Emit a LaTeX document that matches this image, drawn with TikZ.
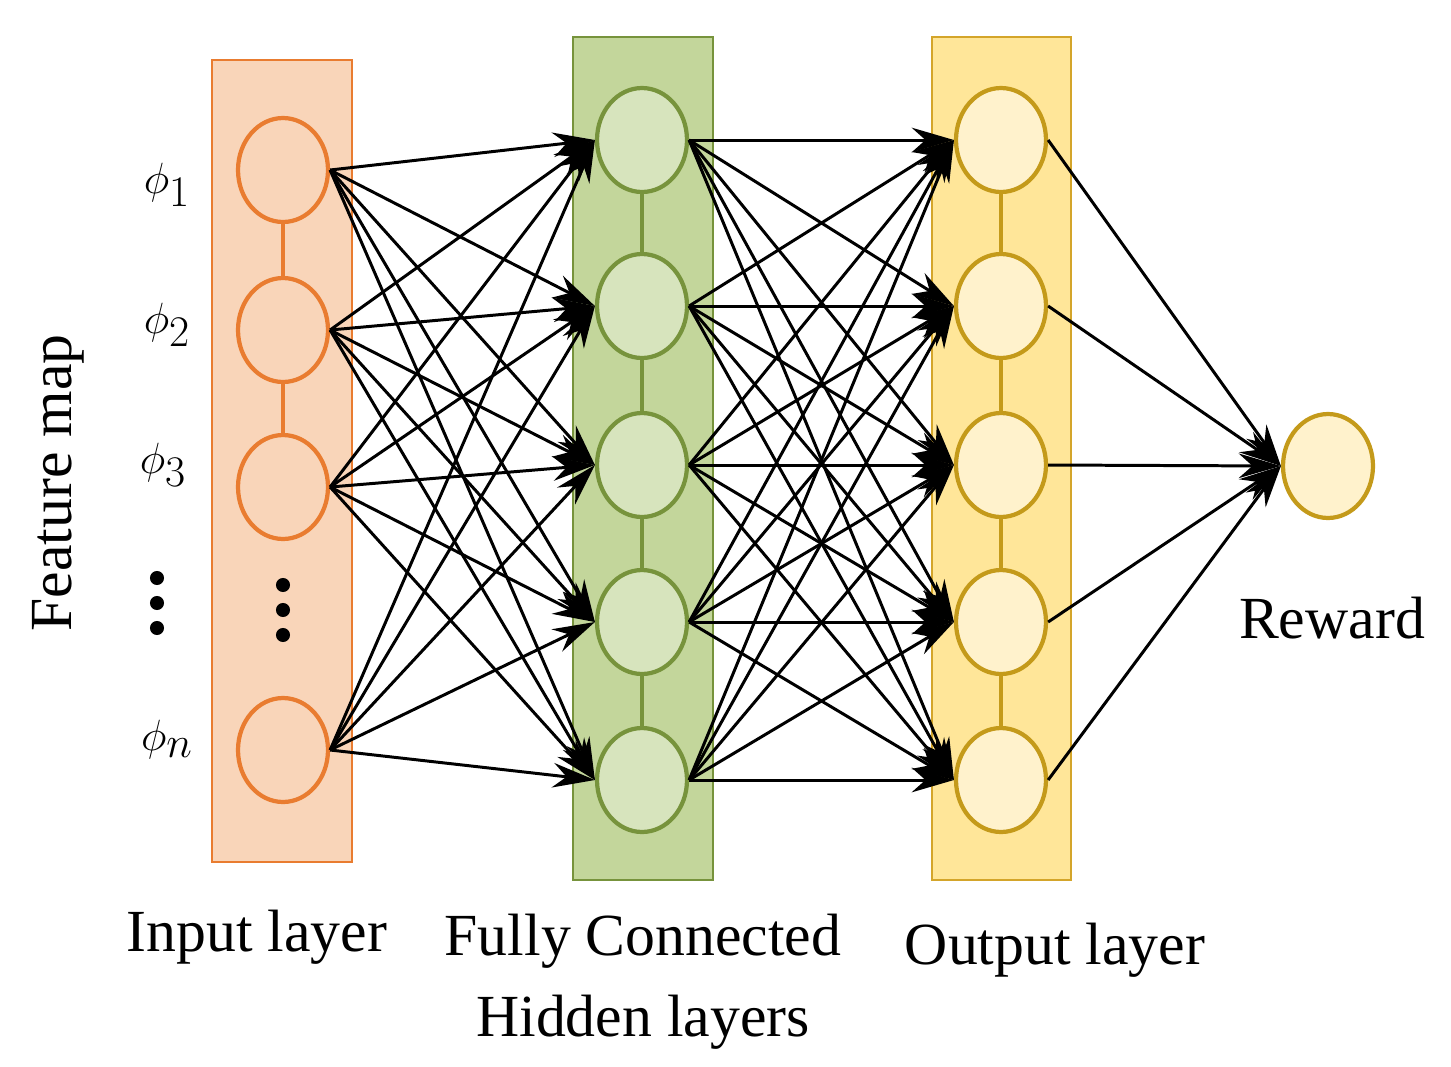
\documentclass[tikz,border=0pt]{standalone}
\usepackage{fontspec}
\setmainfont{Liberation Serif}
\usetikzlibrary{arrows.meta,shapes.geometric}
\definecolor{inF}{HTML}{F9D5B9}\definecolor{inB}{HTML}{E97C30}
\definecolor{hdF}{HTML}{C3D69B}\definecolor{hdB}{HTML}{77933C}\definecolor{hdN}{HTML}{D7E4BD}
\definecolor{otF}{HTML}{FFE699}\definecolor{otB}{HTML}{D4A52A}\definecolor{otN}{HTML}{FFF2CC}\definecolor{otNB}{HTML}{C49A1A}
\begin{document}
\begin{tikzpicture}[x=0.02cm,y=-0.02cm,
 neu/.style={ellipse,minimum width=1.8cm,minimum height=2.08cm,line width=2.4pt,inner sep=0pt},
 lab/.style={font=\fontsize{34}{40}\selectfont,align=center},
 phi/.style={font=\fontsize{44}{50}\selectfont},
 con/.style={line width=1.7pt,-{Stealth[length=24pt,width=14pt]}},
 band/.style={line width=0.8pt}]
\useasboundingbox (0,0) rectangle (1451,1066);
\draw[band,fill=inF,draw=inB] (212,60) rectangle (352,862);
\draw[band,fill=hdF,draw=hdB] (573,37) rectangle (713,880);
\draw[band,fill=otF,draw=otB] (932,37) rectangle (1071,880);
\foreach \n/\y in {1/170,2/330,3/487,5/750}
  \node[neu,draw=inB,fill=inF] (i\n) at (283,\y) {};
\draw[inB,line width=2pt] (i1)--(i2) (i2)--(i3);
\foreach \n/\y in {1/140,2/306,3/465,4/622,5/780}{
  \node[neu,draw=hdB,fill=hdN] (h\n) at (642,\y) {};
  \node[neu,draw=otNB,fill=otN] (o\n) at (1001,\y) {};}
\draw[hdB,line width=2pt] (h1)--(h2) (h2)--(h3) (h3)--(h4) (h4)--(h5);
\draw[otNB,line width=2pt] (o1)--(o2) (o2)--(o3) (o3)--(o4) (o4)--(o5);
\node[neu,draw=otNB,fill=otN] (r) at (1328,466) {};
\foreach \a in {1,2,3,5} \foreach \b in {1,...,5} \draw[con] (i\a.east) -- (h\b.west);
\foreach \a in {1,...,5} \foreach \b in {1,...,5} \draw[con] (h\a.east) -- (o\b.west);
\foreach \a in {1,...,5} \draw[con] (o\a.east) -- (r.west);
\foreach \y in {585,610,635} \fill (283,\y) circle (4pt);
\foreach \y in {578,603,628} \fill (157,\y) circle (4pt);
\node[phi] (p1) at (167,185) {$\phi_1$};
\node[phi] (p2) at (167,325) {$\phi_2$};
\node[phi] (p3) at (163,465) {$\phi_3$};
\node[phi] (pn) at (167,740) {$\phi_n$};
\node[lab,rotate=90] (fm) at (58,483) {Feature map};
\node[lab] (il) at (257,937) {Input layer};
\node[lab] (hl) at (643,982) {Fully Connected\\[6pt]Hidden layers};
\node[lab] (ol) at (1055,950) {Output layer};
\node[lab] (rw) at (1332,618) {Reward};
\end{tikzpicture}
\end{document}
